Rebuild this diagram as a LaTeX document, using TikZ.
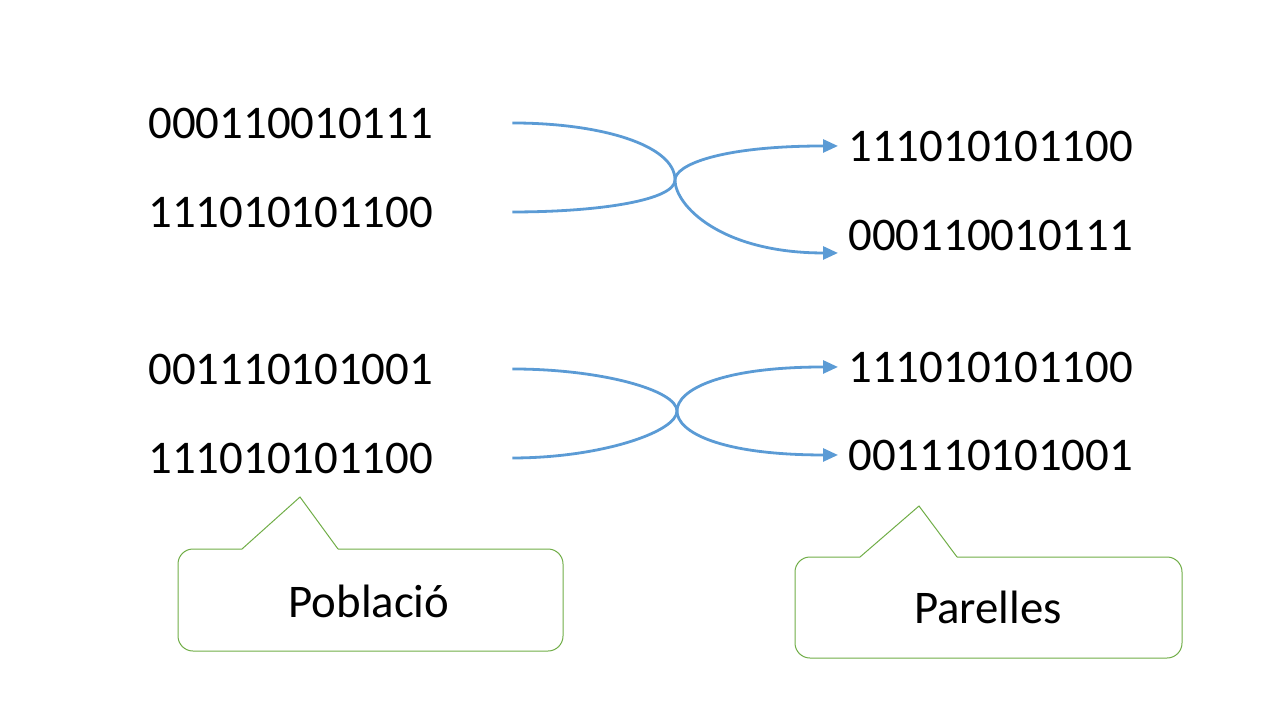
\documentclass[tikz,border=0pt]{standalone}
\usepackage{fontspec}
\setmainfont{Carlito}
\usetikzlibrary{arrows.meta}
\definecolor{linkblue}{HTML}{5B9BD5}
\definecolor{boxgreen}{HTML}{70AD47}

\begin{document}
\begin{tikzpicture}[x=0.5pt, y=0.5pt,
  bits/.style={inner sep=0pt, anchor=base west, font=\fontsize{23.4}{28}\selectfont},
  label/.style={inner sep=0pt, anchor=base, font=\fontsize{23.4}{28}\selectfont},
  link/.style={linkblue, line width=1.4pt, -{Triangle[length=7.5pt,width=6.5pt]}},
  callout/.style={boxgreen, line width=0.5pt}]
\useasboundingbox (0,0) rectangle (1280,720);
\node [bits] (a1) at (148,582) {000110010111};
\node [bits] (a2) at (148,493) {111010101100};
\node [bits] (a3) at (148,336) {001110101001};
\node [bits] (a4) at (148,247) {111010101100};
\node [bits] (b1) at (848,559) {111010101100};
\node [bits] (b2) at (848,470) {000110010111};
\node [bits] (b3) at (848,338) {111010101100};
\node [bits] (b4) at (848,250) {001110101001};
\coordinate (x1) at (675,540);
\coordinate (x2) at (677,309);
\draw [link] ([xshift=39.5pt]a1.east) .. controls +(88,0) and +(0,35) .. (x1) .. controls +(0,-25) and +(-118,0) .. ([xshift=-5pt,yshift=-9pt]b2.west);
\draw [link] ([xshift=39.5pt]a2.east) .. controls +(88,0) and +(0,-20) .. (x1) .. controls +(0,15) and +(-118,0) .. ([xshift=-5pt]b1.west);
\draw [link] ([xshift=39.5pt]a3.east) .. controls +(88,0) and +(0,21) .. (x2) .. controls +(0,-21) and +(-118,0) .. ([xshift=-5pt]b4.west);
\draw [link] ([xshift=39.5pt]a4.east) .. controls +(88,0) and +(0,-21) .. (x2) .. controls +(0,21) and +(-118,0) .. ([xshift=-5pt]b3.west);
\draw [callout, rounded corners=7.5pt] (338,171) -- (563,171) -- (563,69) -- (178,69) -- (178,171) [sharp corners] -- (242,171) -- (300,223) -- (338,171);
\node [label] (pop) at (369,103) {Població};
\draw [callout, rounded corners=7.5pt] (957,163) -- (1182,163) -- (1182,62) -- (795,62) -- (795,163) [sharp corners] -- (860,163) -- (919,214) -- (957,163);
\node [label] (par) at (988,97) {Parelles};
\end{tikzpicture}
\end{document}
